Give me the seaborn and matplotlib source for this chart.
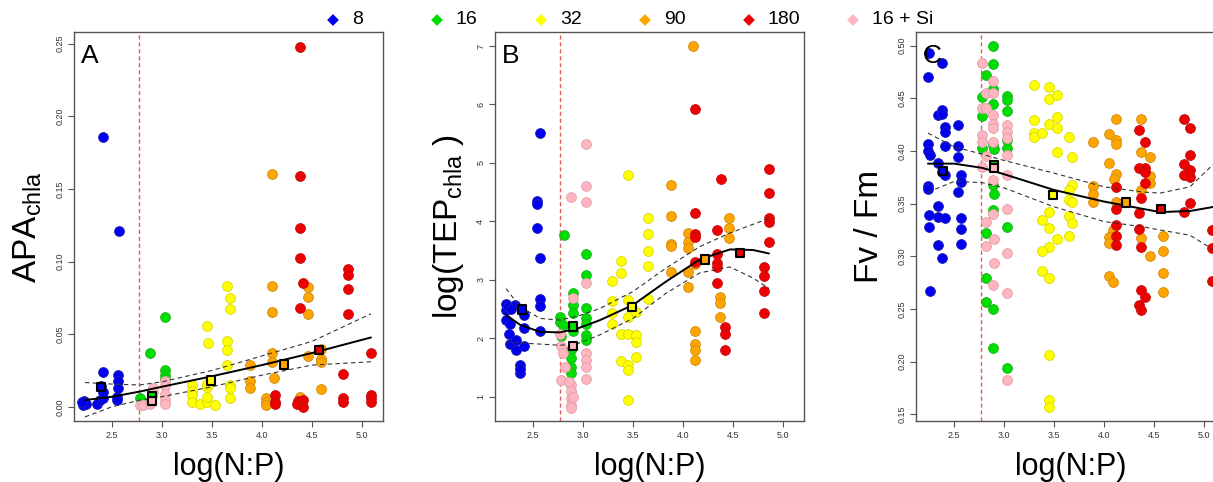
import matplotlib
matplotlib.use('Agg')
import matplotlib.pyplot as plt
import seaborn as sns
import pandas as pd
import numpy as np

groups = ['8', '16', '32', '90', '180', '16 + Si']
colors = ['#0000EE', '#00DD00', '#FFFF00', '#FFA500', '#EE0000', '#FFB6C1']
edges = ['#2020B0', '#20B020', '#D8D800', '#D08A10', '#C01010', '#E0A0A8']
redfield = 16

# group means (black-edged squares)
mean_x = [2.39, 2.90, 3.49, 4.22, 4.57, 2.90]
apa_mean = [0.0138, 0.0076, 0.018, 0.029, 0.039, 0.004]
tep_mean = [2.49, 2.20, 2.53, 3.35, 3.46, 1.87]
fvfm_mean = [0.381, 0.387, 0.358, 0.351, 0.345, 0.384]

# panel A : APA_chla
apa_x = {
    '8': [2.41, 2.57, 2.41, 2.21, 2.22, 2.24, 2.20, 2.35, 2.38, 2.41, 2.39, 2.56, 2.56, 2.56, 2.55, 2.55, 2.41],
    '16': [3.03, 2.88, 3.03, 3.03, 3.03, 2.78, 2.90, 2.88],
    '32': [3.45, 3.46, 3.65, 3.68, 3.68, 3.65, 3.65, 3.65, 3.68, 3.68, 3.68, 3.30, 3.30, 3.30, 3.30, 3.38,
           3.45, 3.45, 3.45, 3.45, 3.53],
    '90': [4.10, 4.10, 4.10, 4.10, 4.10, 4.12, 4.04, 4.04, 4.04, 3.88, 3.88, 3.88, 4.46, 4.46, 4.46, 4.46,
           4.59, 4.59, 4.59, 4.59, 4.38, 4.38],
    '180': [4.38, 4.38, 4.38, 4.38, 4.41, 4.38, 4.13, 4.13, 4.13, 4.36, 4.41, 4.41, 4.35, 4.86, 4.86, 4.86,
            4.86, 4.81, 4.81, 4.81, 5.09, 5.09, 5.09, 5.09],
    '16 + Si': [2.78, 2.81, 2.88, 2.89, 2.91, 2.91, 3.03, 3.03, 3.03, 3.03, 3.03],
}
apa_y = {
    '8': [0.186, 0.121, 0.024, 0.001, 0.004, 0.002, 0.003, 0.002, 0.005, 0.006, 0.014, 0.022, 0.018, 0.013,
          0.007, 0.005, 0.010],
    '16': [0.062, 0.037, 0.025, 0.022, 0.019, 0.006, 0.008, 0.003],
    '32': [0.0555, 0.0436, 0.083, 0.075, 0.067, 0.045, 0.039, 0.029, 0.015, 0.0126, 0.006, 0.015, 0.011,
           0.008, 0.0034, 0.002, 0.0034, 0.007, 0.0138, 0.016, 0.001],
    '90': [0.160, 0.083, 0.065, 0.037, 0.031, 0.020, 0.006, 0.0034, 0.001, 0.0287, 0.018, 0.013, 0.0826,
           0.0757, 0.0638, 0.035, 0.040, 0.033, 0.031, 0.012, 0.007, 0.002],
    '180': [0.248, 0.159, 0.123, 0.1025, 0.0855, 0.0677, 0.008, 0.0034, 0.002, 0.004, 0.005, 0.0, 0.002,
            0.0945, 0.091, 0.081, 0.064, 0.0225, 0.0057, 0.0034, 0.037, 0.008, 0.0057, 0.0034],
    '16 + Si': [0.001, 0.001, 0.002, 0.004, 0.010, 0.013, 0.018, 0.014, 0.009, 0.005, 0.002],
}
apa_fit_x = [2.23, 2.5, 2.78, 3.0, 3.5, 4.0, 4.5, 5.09]
apa_fit = [0.0046, 0.0069, 0.0105, 0.0138, 0.021, 0.0287, 0.037, 0.0477]
apa_upper = [0.0167, 0.0156, 0.015, 0.0172, 0.025, 0.035, 0.045, 0.064]
apa_lower = [-0.007, 0.0, 0.0046, 0.0069, 0.0138, 0.0218, 0.0287, 0.031]

# panel B : log(TEP_chla)
tep_x = {
    '8': [2.57, 2.54, 2.54, 2.54, 2.57, 2.57, 2.57, 2.57, 2.23, 2.32, 2.23, 2.23, 2.27, 2.26, 2.27, 2.33,
          2.33, 2.37, 2.37, 2.37, 2.41, 2.41, 2.41, 2.25, 2.28],
    '16': [2.81, 2.90, 2.90, 3.03, 3.03, 3.03, 3.03, 3.03, 3.03, 3.03, 2.77, 2.77, 2.80, 2.88, 2.88, 2.88,
           2.88, 2.78, 2.90, 2.90],
    '32': [3.45, 3.65, 3.65, 3.65, 3.65, 3.65, 3.38, 3.38, 3.29, 3.29, 3.29, 3.29, 3.38, 3.38, 3.45, 3.45,
           3.45, 3.45, 3.45, 3.45, 3.53, 3.53, 3.53, 3.53],
    '90': [4.10, 3.88, 3.88, 3.88, 3.88, 3.88, 4.05, 4.05, 4.05, 4.05, 4.05, 4.12, 4.12, 4.12, 4.12, 4.46,
           4.46, 4.46, 4.37, 4.37, 4.37, 4.12],
    '180': [4.12, 4.12, 4.12, 4.12, 4.12, 4.38, 4.34, 4.34, 4.34, 4.34, 4.34, 4.42, 4.42, 4.42, 4.86, 4.86,
            4.86, 4.86, 4.86, 4.81, 4.81, 4.81, 4.81],
    '16 + Si': [3.03, 3.03, 3.03, 2.88, 3.03, 2.90, 3.03, 3.03, 3.03, 3.03, 2.77, 2.78, 2.80, 2.82, 2.78,
                2.88, 2.88, 2.88, 2.88, 2.88, 2.86, 2.90],
}
tep_y = {
    '8': [5.52, 4.34, 4.30, 3.89, 3.37, 2.67, 2.56, 2.12, 2.59, 2.57, 2.48, 2.31, 2.25, 2.08, 1.91, 1.97,
          1.80, 1.54, 1.40, 1.48, 2.40, 2.17, 1.86, 2.53, 2.50],
    '16': [3.76, 2.77, 2.57, 3.44, 3.08, 2.51, 2.34, 2.25, 2.06, 1.97, 2.37, 2.28, 2.23, 1.80, 1.66, 1.51,
           1.40, 2.03, 2.44, 2.12],
    '32': [4.80, 4.05, 3.78, 3.49, 3.23, 2.67, 3.33, 3.11, 2.98, 2.63, 2.43, 2.24, 2.07, 1.61, 2.65, 2.37,
           2.08, 1.55, 1.46, 0.94, 2.06, 1.94, 1.68, 2.45],
    '90': [7.00, 4.62, 4.09, 3.62, 3.57, 3.14, 3.80, 3.65, 3.54, 3.14, 2.88, 2.13, 1.91, 1.80, 1.63, 4.05,
           3.88, 3.71, 2.71, 2.60, 2.37, 3.27],
    '180': [5.93, 4.15, 3.78, 3.73, 3.31, 4.72, 3.85, 3.45, 3.28, 3.22, 2.94, 2.20, 2.08, 1.80, 4.90, 4.49,
            4.05, 3.99, 3.64, 3.22, 3.07, 2.80, 2.44],
    '16 + Si': [5.32, 4.61, 4.33, 4.42, 2.94, 2.69, 1.74, 1.63, 1.51, 1.31, 2.08, 1.86, 1.74, 1.51, 1.29,
                1.20, 1.09, 0.97, 0.86, 0.80, 1.25, 1.00],
}
tep_fit_x = [2.23, 2.37, 2.57, 2.77, 2.95, 3.17, 3.5, 3.83, 4.17, 4.47, 4.7, 4.86]
tep_fit = [2.40, 2.23, 2.11, 2.10, 2.17, 2.31, 2.57, 2.97, 3.35, 3.52, 3.51, 3.45]
tep_upper = [2.85, 2.54, 2.34, 2.31, 2.38, 2.51, 2.80, 3.20, 3.57, 3.80, 3.95, 4.05]
tep_lower = [1.94, 1.92, 1.90, 1.88, 1.91, 2.06, 2.34, 2.77, 3.12, 3.22, 3.03, 2.85]

# panel C : Fv/Fm
fvfm_x = {
    '8': [2.25, 2.24, 2.38, 2.34, 2.38, 2.38, 2.41, 2.41, 2.41, 2.24, 2.24, 2.26, 2.54, 2.54, 2.54, 2.34,
          2.38, 2.41, 2.24, 2.24, 2.57, 2.57, 2.54, 2.25, 2.25, 2.34, 2.34, 2.41, 2.57, 2.57, 2.57, 2.34,
          2.38, 2.26],
    '16': [2.89, 2.89, 2.82, 2.78, 2.78, 2.89, 2.89, 3.03, 3.03, 3.03, 2.78, 2.89, 2.90, 3.03, 3.03, 2.89,
           2.90, 2.89, 2.82, 3.03, 2.82, 2.82, 2.89, 2.89, 3.03],
    '32': [3.30, 3.45, 3.45, 3.53, 3.30, 3.30, 3.30, 3.38, 3.45, 3.53, 3.53, 3.53, 3.65, 3.68, 3.68, 3.65,
           3.65, 3.68, 3.38, 3.45, 3.45, 3.65, 3.68, 3.53, 3.45, 3.38, 3.65, 3.38, 3.45, 3.45, 3.45, 3.45],
    '90': [3.89, 3.89, 3.89, 3.89, 4.05, 4.05, 4.12, 4.12, 4.12, 4.12, 4.10, 4.12, 4.09, 4.05, 4.05, 4.05,
           4.09, 4.37, 4.37, 4.37, 4.46, 4.46, 4.46, 4.37, 4.46, 4.59, 4.59, 4.59, 4.59],
    '180': [4.35, 4.41, 4.35, 4.41, 4.41, 4.41, 4.37, 4.12, 4.12, 4.12, 4.12, 4.12, 4.35, 4.35, 4.37, 4.37,
            4.41, 4.35, 4.37, 4.80, 4.86, 4.86, 4.80, 4.86, 4.80, 4.86, 4.86, 4.80, 5.08, 5.08, 5.08],
    '16 + Si': [2.78, 2.89, 2.82, 2.89, 2.78, 2.82, 2.89, 2.89, 2.89, 2.78, 2.78, 2.89, 3.03, 3.03, 3.03,
                3.03, 2.78, 2.82, 2.89, 3.03, 3.03, 2.82, 2.89, 2.82, 2.90, 3.03, 2.90, 2.89, 3.03, 3.03],
}
fvfm_y = {
    '8': [0.493, 0.470, 0.484, 0.434, 0.439, 0.435, 0.423, 0.418, 0.405, 0.407, 0.400, 0.396, 0.425, 0.405,
          0.394, 0.389, 0.380, 0.377, 0.367, 0.364, 0.377, 0.371, 0.361, 0.339, 0.328, 0.348, 0.337, 0.336,
          0.336, 0.326, 0.312, 0.311, 0.298, 0.267],
    '16': [0.500, 0.483, 0.472, 0.451, 0.433, 0.459, 0.445, 0.452, 0.448, 0.438, 0.403, 0.406, 0.402, 0.410,
           0.403, 0.368, 0.359, 0.344, 0.322, 0.328, 0.279, 0.257, 0.250, 0.213, 0.194],
    '32': [0.463, 0.461, 0.449, 0.453, 0.429, 0.417, 0.413, 0.417, 0.426, 0.432, 0.422, 0.399, 0.413, 0.394,
           0.368, 0.363, 0.353, 0.352, 0.334, 0.342, 0.327, 0.338, 0.332, 0.316, 0.309, 0.305, 0.319, 0.286,
           0.279, 0.206, 0.164, 0.157],
    '90': [0.409, 0.367, 0.359, 0.352, 0.416, 0.389, 0.430, 0.410, 0.407, 0.378, 0.373, 0.352, 0.325, 0.318,
           0.313, 0.281, 0.276, 0.430, 0.399, 0.363, 0.394, 0.376, 0.370, 0.317, 0.300, 0.319, 0.305, 0.284,
           0.266],
    '180': [0.420, 0.409, 0.384, 0.384, 0.380, 0.370, 0.355, 0.366, 0.345, 0.330, 0.319, 0.311, 0.341, 0.326,
            0.309, 0.268, 0.261, 0.254, 0.249, 0.430, 0.422, 0.396, 0.388, 0.382, 0.377, 0.375, 0.351, 0.342,
            0.325, 0.308, 0.277],
    '16 + Si': [0.484, 0.466, 0.455, 0.455, 0.441, 0.441, 0.434, 0.426, 0.422, 0.415, 0.409, 0.409, 0.425,
                0.418, 0.412, 0.396, 0.385, 0.395, 0.372, 0.377, 0.345, 0.333, 0.340, 0.310, 0.316, 0.303,
                0.294, 0.273, 0.265, 0.183],
}
fvfm_fit_x = [2.24, 2.5, 2.78, 3.0, 3.5, 4.0, 4.39, 4.56, 4.86, 5.1]
fvfm_fit = [0.388, 0.388, 0.384, 0.378, 0.363, 0.352, 0.345, 0.342, 0.343, 0.347]
fvfm_upper = [0.417, 0.404, 0.397, 0.391, 0.379, 0.366, 0.361, 0.360, 0.366, 0.388]
fvfm_lower = [0.361, 0.371, 0.370, 0.365, 0.347, 0.333, 0.328, 0.325, 0.320, 0.306]

sns.set_theme(style='white')
plt.rcParams['font.family'] = ['Liberation Sans', 'DejaVu Sans']
plt.rcParams['text.color'] = 'black'

W, H = 1213, 482
fig = plt.figure(figsize=(W / 100, H / 100), dpi=100)

panels = [
    ('A', apa_x, apa_y, apa_mean, apa_fit_x, apa_fit, apa_upper, apa_lower,
     r'APA$_{\mathregular{chla}}$', (-0.0098, 0.258), np.arange(0, 0.26, 0.05), '{:.2f}', 74),
    ('B', tep_x, tep_y, tep_mean, tep_fit_x, tep_fit, tep_upper, tep_lower,
     r'log(TEP$_{\mathregular{chla}}$ )', (0.584, 7.24), np.arange(1, 8, 1), '{:.0f}', 495),
    ('C', fvfm_x, fvfm_y, fvfm_mean, fvfm_fit_x, fvfm_fit, fvfm_upper, fvfm_lower,
     'Fv / Fm', (0.1436, 0.513), np.arange(0.15, 0.51, 0.05), '{:.2f}', 916),
]

for letter, px, py, pmean, fx, fit, up, lo, ylab, ylim, yt, fmt, left in panels:
    ax = fig.add_axes([left / W, 61 / H, 309 / W, 389 / H])
    ax.axvline(np.log(redfield), color='#E06060', lw=1, ls=(0, (3, 2)), zorder=1)
    for g, c, e in zip(groups, colors, edges):
        df = pd.DataFrame({'x': px[g], 'y': py[g]})
        sns.scatterplot(data=df, x='x', y='y', ax=ax, color=c, edgecolor=e,
                        linewidth=0.6, s=50, zorder=2, legend=False)
    sns.lineplot(x=fx, y=fit, ax=ax, color='black', lw=1.4, zorder=3)
    sns.lineplot(x=fx, y=up, ax=ax, color='#333333', lw=0.8, ls=(0, (4, 3)), zorder=3)
    sns.lineplot(x=fx, y=lo, ax=ax, color='#333333', lw=0.8, ls=(0, (4, 3)), zorder=3)
    mdf = pd.DataFrame({'x': mean_x, 'y': pmean, 'g': groups})
    sns.scatterplot(data=mdf, x='x', y='y', hue='g', palette=dict(zip(groups, colors)),
                    marker='s', s=36, edgecolor='black', linewidth=1.5, ax=ax,
                    zorder=4, legend=False)
    ax.set_xlim(2.12, 5.21)
    ax.set_ylim(*ylim)
    ax.set_xticks([2.5, 3.0, 3.5, 4.0, 4.5, 5.0])
    ax.set_xticklabels(['2.5', '3.0', '3.5', '4.0', '4.5', '5.0'])
    ax.set_yticks(yt)
    ax.set_yticklabels([fmt.format(v) for v in yt], rotation=90, va='center')
    ax.tick_params(axis='both', labelsize=6.5, labelcolor='#333333', colors='#555555',
                   length=4, width=0.8, direction='out', left=True, bottom=True, pad=3)
    for sp in ax.spines.values():
        sp.set_color('#555555')
        sp.set_linewidth(1.0)
    ax.set_xlabel('log(N:P)', fontsize=22, va='center', color='black')
    ax.xaxis.set_label_coords(0.5, -0.118)
    ax.set_ylabel(ylab, fontsize=24, va='center', color='black')
    ax.yaxis.set_label_coords(-0.15, 0.5)
    ax.text(0.022, 0.968, letter, transform=ax.transAxes, fontsize=19, ha='left', va='top')

# legend row across the top
lax = fig.add_axes([281 / W, 1 - 30 / H, 624 / W, 20 / H])
lax.set_xlim(-0.5, 5.5)
lax.set_ylim(-1, 1)
lax.axis('off')
ldf = pd.DataFrame({'x': range(len(groups)), 'y': [0] * len(groups), 'g': groups})
sns.scatterplot(data=ldf, x='x', y='y', hue='g', palette=dict(zip(groups, colors)),
                marker='D', s=36, edgecolor='none', ax=lax, legend=False, clip_on=False)
for i, g in enumerate(groups):
    lax.text(i + 0.18, 0, g, fontsize=14, va='center', ha='left')

fig.savefig('out.png', dpi=100)
